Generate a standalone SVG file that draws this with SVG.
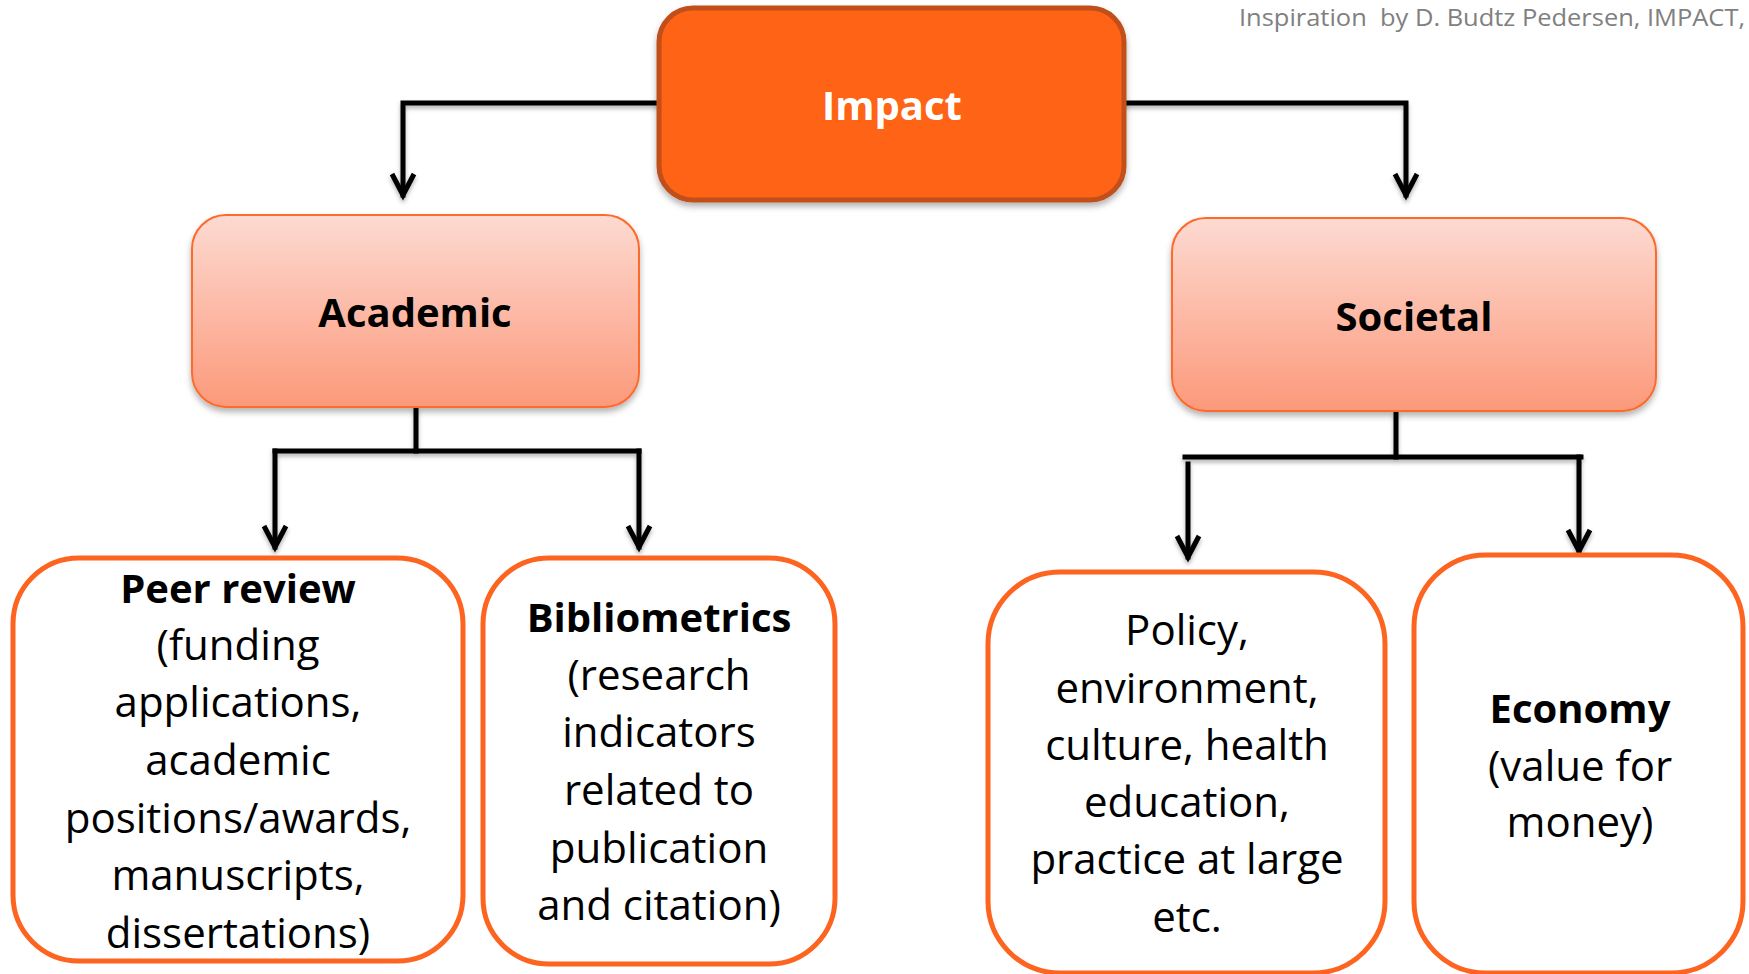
<svg xmlns="http://www.w3.org/2000/svg" width="1749" height="974" viewBox="0 0 1749 974">
  <defs>
    <linearGradient id="pinkGrad" x1="0" y1="0" x2="0" y2="1">
      <stop offset="0" stop-color="#fddad2"/>
      <stop offset="1" stop-color="#fc997a"/>
    </linearGradient>
    <filter id="shadow" x="-10%" y="-10%" width="120%" height="130%">
      <feDropShadow dx="0" dy="4" stdDeviation="3" flood-color="#000" flood-opacity="0.3"/>
    </filter>
    <filter id="lineShadow" x="-10%" y="-10%" width="120%" height="130%">
      <feDropShadow dx="0" dy="3" stdDeviation="2" flood-color="#000" flood-opacity="0.3"/>
    </filter>
    <marker id="arrow" markerUnits="userSpaceOnUse" orient="auto" refX="0" refY="0" markerWidth="40" markerHeight="40" viewBox="-30 -20 40 40" overflow="visible">
      <path d="M-21,-11 L0,0 L-21,11" fill="none" stroke="#000" stroke-width="5" stroke-linejoin="miter"/>
    </marker>
  </defs>
  <style>
    .txt { font-family: "Open Sans", "Liberation Sans", sans-serif; text-anchor: middle; fill: #000; }
    .big { font-size: 40px; font-weight: bold; }
    .body { font-size: 42px; }
    .bold { font-size: 40px; font-weight: bold; }
    .leaf { fill: #fff; stroke: #fd6420; stroke-width: 5; }
    .mid { fill: url(#pinkGrad); stroke: #fd6a2b; stroke-width: 2; filter: url(#shadow); }
    .conn { fill: none; stroke: #000; stroke-width: 5; stroke-linecap: square; }
    .credit { font-family: "Open Sans", "Liberation Sans", sans-serif; font-size: 24px; fill: #808080; white-space: pre; }
  </style>

  <rect width="1749" height="974" fill="#fff"/>

  <text class="credit" x="1239" y="26" textLength="506" lengthAdjust="spacingAndGlyphs" xml:space="preserve">Inspiration  by D. Budtz Pedersen, IMPACT,</text>

  <g id="connectors" filter="url(#lineShadow)">
    <polyline class="conn" points="659,103 403,103 403,195" marker-end="url(#arrow)"/>
    <polyline class="conn" points="1124,103 1406,103 1406,195" marker-end="url(#arrow)"/>
    <line class="conn" x1="416" y1="409" x2="416" y2="451"/>
    <line class="conn" x1="275" y1="451" x2="639" y2="451"/>
    <line class="conn" x1="275" y1="451" x2="275" y2="547" marker-end="url(#arrow)"/>
    <line class="conn" x1="639" y1="451" x2="639" y2="547" marker-end="url(#arrow)"/>
    <line class="conn" x1="1396" y1="413" x2="1396" y2="457"/>
    <line class="conn" x1="1185" y1="457" x2="1581" y2="457"/>
    <line class="conn" x1="1188" y1="464" x2="1188" y2="557" marker-end="url(#arrow)"/>
    <line class="conn" x1="1579" y1="457" x2="1579" y2="551" marker-end="url(#arrow)"/>
  </g>

  <g id="impact">
    <rect x="659" y="8" width="465" height="192" rx="34" ry="34" fill="#fe6419" stroke="#c04f1b" stroke-width="5" filter="url(#shadow)"/>
    <text class="txt big" x="892" y="120" style="fill:#fff">Impact</text>
  </g>

  <g id="academic">
    <rect class="mid" x="192" y="215" width="447" height="192" rx="34" ry="34"/>
    <text class="txt big" x="415" y="327">Academic</text>
  </g>

  <g id="societal">
    <rect class="mid" x="1172" y="218" width="484" height="193" rx="34" ry="34"/>
    <text class="txt big" x="1414" y="331">Societal</text>
  </g>

  <g id="peer-review">
    <rect class="leaf" x="13" y="558" width="450" height="403" rx="66" ry="66"/>
    <text class="txt bold" x="238" y="603">Peer review</text>
    <text class="txt body" x="238" y="660">(funding</text>
    <text class="txt body" x="238" y="717">applications,</text>
    <text class="txt body" x="238" y="775">academic</text>
    <text class="txt body" x="238" y="833">positions/awards,</text>
    <text class="txt body" x="238" y="890">manuscripts,</text>
    <text class="txt body" x="238" y="948">dissertations)</text>
  </g>

  <g id="bibliometrics">
    <rect class="leaf" x="483" y="558" width="352" height="406" rx="66" ry="66"/>
    <text class="txt bold" x="659" y="632">Bibliometrics</text>
    <text class="txt body" x="659" y="690">(research</text>
    <text class="txt body" x="659" y="747">indicators</text>
    <text class="txt body" x="659" y="805">related to</text>
    <text class="txt body" x="659" y="863">publication</text>
    <text class="txt body" x="659" y="920">and citation)</text>
  </g>

  <g id="policy">
    <rect class="leaf" x="988" y="572" width="397" height="401" rx="72" ry="72"/>
    <text class="txt body" x="1187" y="645">Policy,</text>
    <text class="txt body" x="1187" y="703">environment,</text>
    <text class="txt body" x="1187" y="760">culture, health</text>
    <text class="txt body" x="1187" y="817">education,</text>
    <text class="txt body" x="1187" y="874">practice at large</text>
    <text class="txt body" x="1187" y="932">etc.</text>
  </g>

  <g id="economy">
    <rect class="leaf" x="1414" y="555" width="329" height="418" rx="72" ry="72"/>
    <text class="txt bold" x="1580" y="723">Economy</text>
    <text class="txt body" x="1580" y="781">(value for</text>
    <text class="txt body" x="1580" y="837">money)</text>
  </g>
</svg>
